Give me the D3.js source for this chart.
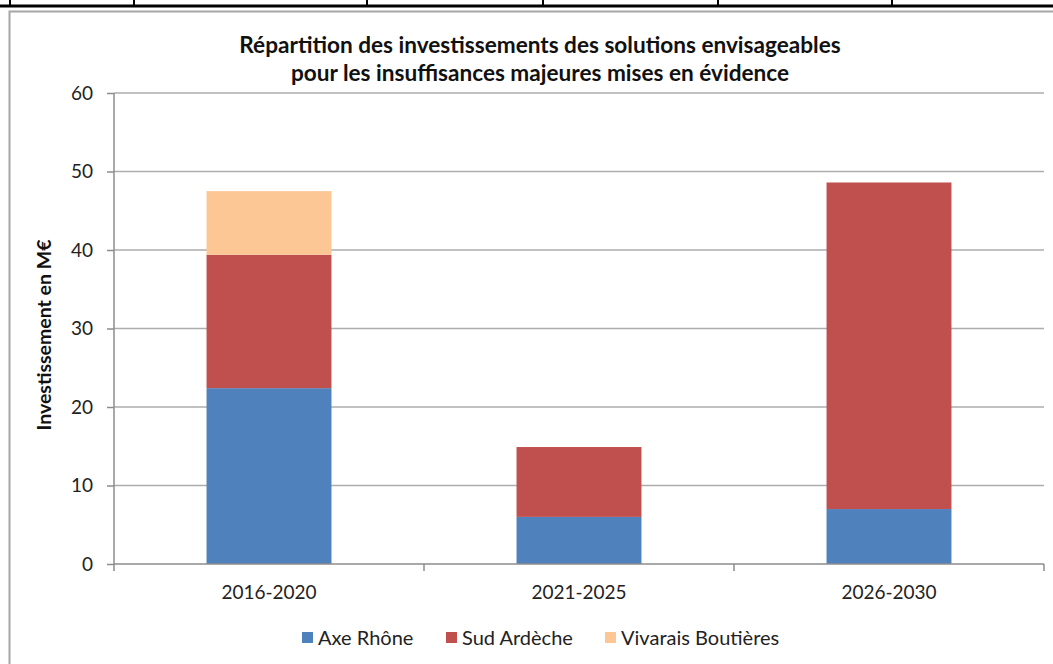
<!DOCTYPE html>
<html>
<head>
<meta charset="utf-8">
<script src="https://cdn.jsdelivr.net/npm/d3@7/dist/d3.min.js"></script>
<style>
  html, body { margin: 0; padding: 0; background: #fff; }
  svg { display: block; font-family: Lato, "Open Sans", sans-serif; }
</style>
</head>
<body>
<svg id="chart" width="1053" height="664"></svg>
<script>
// Periods on the x axis
const periods = ["2016-2020", "2021-2025", "2026-2030"];
// Investment per zone, in M€
const axeRhone = [22.4, 6.0, 7.0];
const sudArdeche = [17.0, 8.9, 41.6];
const vivaraisBoutieres = [8.1, 0, 0];
const seriesNames = ["Axe Rhône", "Sud Ardèche", "Vivarais Boutières"];
const seriesColors = ["#4F81BD", "#C0504D", "#FCC794"];
const yTicks = [0, 10, 20, 30, 40, 50, 60];
const titleLines = [
  "Répartition des investissements des solutions envisageables",
  "pour les insuffisances majeures mises en évidence"
];
const yTitle = "Investissement en M€";
const tableColumns = [10, 134, 367, 543, 718, 892];

const svg = d3.select("#chart");

// Bottom edge of the table row above the chart
const tableRow = svg.append("g");
tableRow.append("line").attr("x1", 0).attr("x2", 1053).attr("y1", 6).attr("y2", 6)
  .attr("stroke", "#000").attr("stroke-width", 3);
tableColumns.forEach(cx => {
  tableRow.append("line").attr("x1", cx).attr("x2", cx).attr("y1", 0).attr("y2", 6)
    .attr("stroke", "#000").attr("stroke-width", 2);
});

// Chart frame
svg.append("rect").attr("x", 9.5).attr("y", 11.5).attr("width", 1100).attr("height", 700)
  .attr("fill", "#fff").attr("stroke", "#a6a6a6").attr("stroke-width", 2);

const margin = { left: 114, right: 1044, top: 93, bottom: 564 };

const x = d3.scaleBand().domain(periods)
  .range([margin.left, margin.right])
  .paddingInner(0.597).paddingOuter(0.2985);
const y = d3.scaleLinear().domain([0, 60]).range([margin.bottom, margin.top]);

// Horizontal gridlines
svg.append("g").selectAll("line").data(yTicks.filter(d => d > 0)).join("line")
  .attr("x1", margin.left).attr("x2", margin.right)
  .attr("y1", d => y(d)).attr("y2", d => y(d))
  .attr("stroke", "#adadad").attr("stroke-width", 1.5);

// Stacked bars
const rows = periods.map((p, i) => ({
  period: p,
  "Axe Rhône": axeRhone[i],
  "Sud Ardèche": sudArdeche[i],
  "Vivarais Boutières": vivaraisBoutieres[i]
}));
const stacked = d3.stack().keys(seriesNames)(rows);
const color = d3.scaleOrdinal().domain(seriesNames).range(seriesColors);

svg.append("g").selectAll("g").data(stacked).join("g")
  .attr("fill", d => color(d.key))
  .selectAll("rect").data(d => d.filter(s => s[1] - s[0] > 0)).join("rect")
  .attr("x", d => x(d.data.period))
  .attr("width", x.bandwidth())
  .attr("y", d => y(d[1]))
  .attr("height", d => y(d[0]) - y(d[1]));

// Y axis
const yAxis = svg.append("g").attr("transform", `translate(${margin.left},0)`)
  .call(d3.axisLeft(y).tickValues(yTicks).tickSize(7).tickPadding(14).tickSizeOuter(0));
yAxis.select(".domain").attr("stroke", "#8c8c8c").attr("stroke-width", 1.5)
  .attr("d", `M0,${margin.top}V${margin.bottom + 7}`);
yAxis.selectAll(".tick line").attr("stroke", "#8c8c8c").attr("stroke-width", 1.5);
yAxis.selectAll(".tick text").attr("font-size", 19).attr("fill", "#222")
  .attr("font-family", "Lato, sans-serif");

// X axis with ticks between categories
const xAxis = svg.append("g").attr("transform", `translate(0,${margin.bottom})`);
xAxis.append("line").attr("x1", margin.left).attr("x2", margin.right)
  .attr("stroke", "#8c8c8c").attr("stroke-width", 1.5);
const boundaries = periods.map(p => x(p) - x.step() * x.paddingInner() / 2)
  .concat([margin.right]);
xAxis.selectAll(".sep").data(boundaries.slice(1)).join("line").attr("class", "sep")
  .attr("x1", d => d).attr("x2", d => d).attr("y1", 0).attr("y2", 7)
  .attr("stroke", "#8c8c8c").attr("stroke-width", 1.5);
xAxis.selectAll("text").data(periods).join("text")
  .attr("x", d => x(d) + x.bandwidth() / 2).attr("y", 35)
  .attr("text-anchor", "middle").attr("font-size", 19).attr("fill", "#222")
  .text(d => d);

// Title
svg.append("g").selectAll("text").data(titleLines).join("text")
  .attr("x", 540).attr("y", (d, i) => 53 + i * 28)
  .attr("text-anchor", "middle").attr("font-size", 22.6).attr("font-weight", "bold")
  .attr("fill", "#111").text(d => d);

// Y axis title
svg.append("text")
  .attr("transform", "translate(51,335) rotate(-90)")
  .attr("text-anchor", "middle").attr("font-size", 19.5).attr("font-weight", "bold")
  .attr("fill", "#111").text(yTitle);

// Legend
const legendX = [302, 446, 605];
const legend = svg.append("g").selectAll("g").data(seriesNames).join("g")
  .attr("transform", (d, i) => `translate(${legendX[i]},638)`);
legend.append("rect").attr("x", 0).attr("y", -6).attr("width", 11).attr("height", 11)
  .attr("fill", d => color(d));
legend.append("text").attr("x", 16).attr("y", 7).attr("font-size", 20)
  .attr("fill", "#222").text(d => d);
</script>
</body>
</html>
